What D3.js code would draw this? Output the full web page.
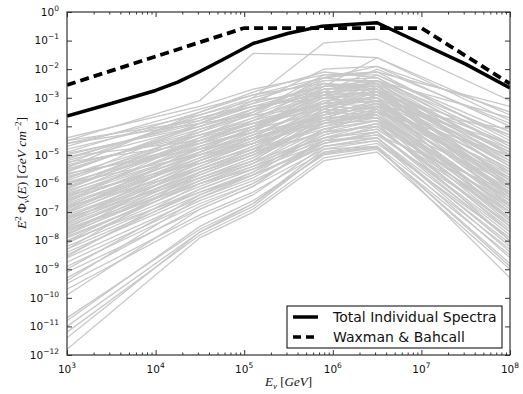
<!DOCTYPE html>
<html><head><meta charset="utf-8">
<script src="https://cdn.jsdelivr.net/npm/d3@7"></script>
<style>
html,body{margin:0;padding:0;background:#fff;}
svg{display:block;}
</style>
</head><body>
<svg id="chart" width="523" height="394"></svg>
<script>
// ---- DATA ----
// energy nodes (GeV) at which the individual spectra bend (log10 E = 3, 4.5, 5.1, 5.9, 6.5, 8)
const spectrumEnergies = [1e3, 3.16e4, 1.26e5, 7.94e5, 3.16e6, 1e8];
// individual source spectra: log10 of E^2 Phi at the nodes above
const spectraLog10 = [
  [-4.4, -3.3, -2.7, -2.2, -2.1, -3.3],
  [-4.5, -3.1, -1.45, -1.5, -1.6, -3.6],
  [-4.6, -3.6, -3.0, -1.08, -0.95, -3.1],
  [-4.7, -3.4, -2.9, -2.3, -1.9, -3.5],
  [-4.8, -3.7, -3.2, -2.0, -1.9, -4.0],
  [-4.9, -3.5, -2.8, -2.1, -2.3, -4.6],
  [-5.0, -3.9, -3.3, -2.6, -1.6, -3.8],
  [-5.1, -3.8, -3.0, -2.4, -2.4, -5.0],
  [-5.2, -4.0, -3.5, -2.2, -2.2, -4.2],
  [-5.3, -3.6, -3.1, -2.8, -2.0, -3.9],
  [-5.4, -4.2, -3.4, -2.5, -2.6, -5.4],
  [-5.5, -4.1, -3.6, -2.3, -2.1, -4.5],
  [-5.6, -3.9, -3.2, -2.6, -2.5, -5.2],
  [-5.7, -4.3, -3.7, -2.9, -2.2, -4.4],
  [-5.8, -4.4, -3.5, -2.4, -2.3, -4.8],
  [-5.9, -4.2, -3.6, -2.7, -2.6, -5.6],
  [-6.0, -4.5, -3.9, -3.0, -2.4, -4.7],
  [-6.05, -4.3, -3.8, -2.5, -2.8, -6.0],
  [-6.1, -4.6, -4.0, -3.2, -2.5, -5.0],
  [-6.2, -4.4, -3.7, -2.8, -2.9, -5.8],
  [-6.25, -4.8, -4.1, -2.9, -2.4, -4.3],
  [-6.3, -4.5, -3.9, -3.4, -2.7, -5.3],
  [-6.4, -4.7, -4.2, -2.6, -2.6, -6.2],
  [-6.45, -4.9, -4.0, -3.1, -3.0, -5.5],
  [-6.5, -4.6, -3.8, -2.9, -2.8, -6.4],
  [-6.6, -5.0, -4.3, -3.3, -2.6, -4.9],
  [-6.65, -4.8, -4.1, -3.0, -3.2, -6.6],
  [-6.7, -5.1, -4.5, -3.5, -2.9, -5.1],
  [-6.8, -4.9, -4.2, -2.8, -2.7, -5.9],
  [-6.85, -5.2, -4.4, -3.6, -3.1, -6.0],
  [-6.9, -5.0, -4.3, -3.2, -3.3, -6.8],
  [-7.0, -5.3, -4.6, -3.4, -2.8, -5.4],
  [-7.05, -5.1, -4.4, -3.1, -3.0, -6.3],
  [-7.1, -5.4, -4.7, -3.7, -3.2, -5.7],
  [-7.2, -5.2, -4.5, -3.3, -3.4, -7.0],
  [-7.25, -5.5, -4.8, -3.5, -2.9, -5.2],
  [-7.3, -5.3, -4.6, -3.8, -3.3, -6.5],
  [-7.35, -5.6, -4.9, -3.4, -3.5, -7.2],
  [-7.4, -5.4, -4.7, -3.6, -3.1, -5.9],
  [-7.5, -5.7, -5.0, -3.9, -3.4, -6.7],
  [-7.55, -5.5, -4.8, -3.5, -3.6, -7.4],
  [-7.6, -5.8, -5.1, -3.7, -3.2, -6.1],
  [-7.7, -5.6, -4.9, -4.0, -3.5, -6.9],
  [-7.75, -5.9, -5.2, -3.8, -3.7, -7.5],
  [-7.8, -5.7, -5.0, -3.6, -3.3, -6.4],
  [-7.9, -6.0, -5.3, -4.1, -3.6, -7.1],
  [-8.0, -5.8, -5.1, -3.9, -3.8, -7.7],
  [-8.05, -6.1, -5.4, -4.2, -3.4, -6.2],
  [-8.1, -5.9, -5.2, -3.7, -3.7, -7.3],
  [-8.2, -6.2, -5.5, -4.3, -3.9, -6.8],
  [-4.5, -3.8, -3.3, -2.9, -2.8, -4.3],
  [-4.95, -4.0, -3.4, -2.7, -2.7, -5.1],
  [-5.15, -3.7, -3.3, -3.0, -2.9, -4.9],
  [-5.35, -4.3, -3.9, -3.2, -2.4, -3.7],
  [-5.55, -4.0, -3.4, -2.8, -2.7, -5.9],
  [-5.75, -4.6, -4.0, -3.3, -3.0, -5.3],
  [-5.95, -4.7, -4.1, -3.5, -2.9, -4.8],
  [-6.15, -4.5, -3.8, -3.2, -3.1, -6.1],
  [-6.35, -4.9, -4.3, -3.6, -3.3, -5.6],
  [-6.55, -5.0, -4.4, -3.8, -3.4, -6.3],
  [-6.75, -5.2, -4.6, -3.9, -3.5, -5.8],
  [-6.95, -5.1, -4.4, -3.7, -3.6, -6.9],
  [-7.15, -5.5, -4.8, -4.0, -3.7, -6.6],
  [-7.45, -5.6, -5.0, -4.2, -3.8, -7.0],
  [-7.65, -5.9, -5.3, -4.4, -3.9, -6.5],
  [-7.85, -6.0, -5.4, -4.5, -4.0, -7.6],
  [-8.3, -6.3, -5.6, -4.4, -4.1, -7.2],
  [-8.4, -6.4, -5.7, -4.6, -4.2, -7.8],
  [-8.5, -6.2, -5.5, -4.3, -3.9, -8.0],
  [-8.6, -6.5, -5.8, -4.5, -4.3, -7.4],
  [-8.75, -6.6, -5.9, -4.7, -4.4, -8.2],
  [-8.9, -6.7, -6.0, -4.6, -4.2, -7.7],
  [-9.1, -6.9, -6.1, -4.8, -4.5, -8.1],
  [-9.3, -6.8, -6.0, -4.5, -4.4, -8.4],
  [-9.5, -7.1, -6.3, -4.9, -4.6, -7.9],
  [-9.7, -7.2, -6.4, -4.7, -4.5, -8.6],
  [-10.7, -7.6, -6.7, -4.8, -4.7, -8.3],
  [-10.8, -7.5, -6.6, -5.0, -4.75, -8.8],
  [-11.0, -7.7, -6.8, -4.9, -4.7, -9.3],
  [-11.2, -7.8, -6.9, -5.1, -4.8, -8.5],
  [-11.4, -7.7, -6.7, -4.95, -4.72, -8.9],
  [-11.8, -7.9, -7.0, -5.2, -4.9, -9.0],
  [-4.6, -3.9, -3.6, -3.3, -3.4, -5.8],
  [-5.05, -4.5, -4.0, -2.9, -3.1, -6.4],
  [-5.25, -4.6, -4.2, -3.7, -3.2, -4.6],
  [-5.45, -3.5, -2.9, -2.5, -2.7, -6.5],
  [-5.65, -4.8, -4.4, -3.9, -3.5, -5.0],
  [-5.85, -3.9, -3.1, -2.3, -2.5, -6.8],
  [-6.0, -5.0, -4.6, -3.6, -3.3, -4.1],
  [-6.2, -4.1, -3.5, -2.6, -2.4, -5.7],
  [-6.4, -5.3, -4.8, -4.1, -3.8, -6.0],
  [-6.6, -4.4, -3.9, -3.2, -3.0, -7.3],
  [-6.8, -5.5, -4.9, -4.2, -4.0, -6.7],
  [-7.0, -4.7, -4.1, -2.7, -2.5, -5.0],
  [-7.2, -5.8, -5.2, -4.4, -4.1, -7.0],
  [-7.4, -4.9, -4.2, -3.0, -2.8, -4.6],
  [-7.6, -6.0, -5.5, -4.6, -4.3, -6.3],
  [-7.8, -5.2, -4.6, -3.3, -3.1, -5.5],
  [-8.0, -6.3, -5.7, -4.7, -4.4, -7.9],
  [-8.3, -5.6, -4.9, -3.5, -3.2, -6.0],
  [-8.55, -6.0, -5.3, -3.9, -3.6, -6.6],
  [-9.0, -6.4, -5.6, -4.1, -3.8, -7.2],
  [-9.4, -6.5, -5.7, -4.2, -4.0, -7.5],
  [-9.9, -6.9, -6.1, -4.4, -4.2, -8.0]
];
// total of individual spectra
const totalEnergies = [1e3, 3.16e3, 1e4, 1.78e4, 3.16e4, 5.62e4, 1.26e5, 3.16e5, 7.59e5, 3.16e6, 1e7, 3.16e7, 1e8];
const totalValues   = [2.3e-4, 6.3e-4, 1.8e-3, 3.5e-3, 8.3e-3, 2.1e-2, 7.9e-2, 1.8e-1, 3.2e-1, 4.2e-1, 7.9e-2, 1.5e-2, 2.2e-3];
// Waxman & Bahcall
const wbEnergies = [1e3, 1e5, 1e7, 1e8];
const wbValues   = [2.8e-3, 2.75e-1, 2.75e-1, 3.1e-3];
// axis ticks
const xMajorTicks = [1e3, 1e4, 1e5, 1e6, 1e7, 1e8];
const xTickExponents = ["3", "4", "5", "6", "7", "8"];
const yMajorTicks = [1e-12,1e-11,1e-10,1e-9,1e-8,1e-7,1e-6,1e-5,1e-4,1e-3,1e-2,1e-1,1];
const yTickExponents = ["\u221212","\u221211","\u221210","\u22129","\u22128","\u22127","\u22126","\u22125","\u22124","\u22123","\u22122","\u22121","0"];
const legendLabels = ["Total Individual Spectra", "Waxman & Bahcall"];

// ---- LAYOUT ----
const L = 67, R = 510, T = 12, B = 355;
const svg = d3.select("#chart");
const x = d3.scaleLog().domain([1e3, 1e8]).range([L, R]);
const y = d3.scaleLog().domain([1e-12, 1]).range([B, T]);
const frameColor = "#333";

svg.append("defs").append("clipPath").attr("id", "pa")
  .append("rect").attr("x", L).attr("y", T).attr("width", R - L).attr("height", B - T);

const plot = svg.append("g").attr("clip-path", "url(#pa)");
const line = d3.line().x(d => x(d[0])).y(d => y(d[1]));

plot.selectAll("path.spec").data(spectraLog10).join("path")
  .attr("class", "spec")
  .attr("d", s => line(s.map((v, i) => [spectrumEnergies[i], Math.pow(10, v)])))
  .attr("fill", "none").attr("stroke", "#c8c8c8").attr("stroke-width", 1.3);

plot.append("path")
  .attr("d", line(totalEnergies.map((e, i) => [e, totalValues[i]])))
  .attr("fill", "none").attr("stroke", "#000").attr("stroke-width", 3.5)
  .attr("stroke-linejoin", "round");

plot.append("path")
  .attr("d", line(wbEnergies.map((e, i) => [e, wbValues[i]])))
  .attr("fill", "none").attr("stroke", "#000").attr("stroke-width", 3.8)
  .attr("stroke-dasharray", "9,5");

// ---- AXES ----
const xMinor = [];
for (let k = 3; k < 8; k++) for (let m = 2; m <= 9; m++) xMinor.push(m * Math.pow(10, k));

function styleAxis(g) {
  g.select(".domain").remove();
  g.selectAll(".tick line").attr("stroke", frameColor).attr("stroke-width", 1);
  g.selectAll(".tick text").remove();
}
svg.append("g").attr("transform", `translate(0,${B})`)
  .call(d3.axisBottom(x).tickValues(xMajorTicks).tickSize(-5)).call(styleAxis);
svg.append("g").attr("transform", `translate(0,${B})`)
  .call(d3.axisBottom(x).tickValues(xMinor).tickSize(-2.5)).call(styleAxis);
svg.append("g").attr("transform", `translate(0,${T})`)
  .call(d3.axisTop(x).tickValues(xMajorTicks).tickSize(-5)).call(styleAxis);
svg.append("g").attr("transform", `translate(0,${T})`)
  .call(d3.axisTop(x).tickValues(xMinor).tickSize(-2.5)).call(styleAxis);
svg.append("g").attr("transform", `translate(${L},0)`)
  .call(d3.axisLeft(y).tickValues(yMajorTicks).tickSize(-5)).call(styleAxis);
svg.append("g").attr("transform", `translate(${R},0)`)
  .call(d3.axisRight(y).tickValues(yMajorTicks).tickSize(-5)).call(styleAxis);

svg.append("rect").attr("x", L).attr("y", T).attr("width", R - L).attr("height", B - T)
  .attr("fill", "none").attr("stroke", frameColor).attr("stroke-width", 1.2);

const tickFont = "'DejaVu Sans', sans-serif";
// x tick labels
xMajorTicks.forEach((v, i) => {
  const t = svg.append("text").attr("x", x(v)).attr("y", 373)
    .attr("text-anchor", "middle").attr("font-family", tickFont).attr("font-size", 10.5).attr("fill", "#111");
  t.append("tspan").text("10");
  t.append("tspan").attr("dy", -5).attr("font-size", 7.5).text(xTickExponents[i]);
});
// y tick labels
yMajorTicks.forEach((v, i) => {
  const t = svg.append("text").attr("x", 59).attr("y", y(v) + 3.8)
    .attr("text-anchor", "end").attr("font-family", tickFont).attr("font-size", 10.5).attr("fill", "#111");
  t.append("tspan").text("10");
  t.append("tspan").attr("dy", -5).attr("font-size", 7.5).text(yTickExponents[i]);
});

// axis labels
const serif = "'Liberation Serif', 'DejaVu Serif', serif";
const xl = svg.append("text").attr("x", (L + R) / 2).attr("y", 386).attr("text-anchor", "middle")
  .attr("font-family", serif).attr("font-size", 13).attr("fill", "#111");
xl.append("tspan").attr("font-style", "italic").text("E");
xl.append("tspan").attr("font-style", "italic").attr("font-size", 9).attr("dy", 3).text("\u03bd");
xl.append("tspan").attr("dy", -3).text(" [");
xl.append("tspan").attr("font-style", "italic").text("GeV");
xl.append("tspan").text("]");

const yl = svg.append("text").attr("transform", "translate(26,173) rotate(-90)").attr("text-anchor", "middle")
  .attr("font-family", serif).attr("font-size", 13.5).attr("fill", "#111");
yl.append("tspan").attr("font-style", "italic").text("E");
yl.append("tspan").attr("font-size", 9).attr("dy", -5).text("2");
yl.append("tspan").attr("dy", 5).text(" \u03a6");
yl.append("tspan").attr("font-style", "italic").attr("font-size", 9).attr("dy", 3).text("\u03bd");
yl.append("tspan").attr("dy", -3).text("(");
yl.append("tspan").attr("font-style", "italic").text("E");
yl.append("tspan").text(") [");
yl.append("tspan").attr("font-style", "italic").text("GeV cm");
yl.append("tspan").attr("font-size", 9).attr("dy", -5).text("\u22122");
yl.append("tspan").attr("dy", 5).text("]");

// legend
const lg = svg.append("g");
lg.append("rect").attr("x", 287).attr("y", 306).attr("width", 215).attr("height", 42)
  .attr("fill", "#fff").attr("stroke", "#000").attr("stroke-width", 1);
const legendDash = [null, "8,5"];
legendLabels.forEach((lab, i) => {
  const yy = 317 + i * 20;
  lg.append("line").attr("x1", 293).attr("x2", 318).attr("y1", yy).attr("y2", yy)
    .attr("stroke", "#000").attr("stroke-width", 3.5)
    .attr("stroke-dasharray", legendDash[i]);
  lg.append("text").attr("x", 333).attr("y", yy + 5).attr("font-family", tickFont)
    .attr("font-size", 14).attr("fill", "#111").text(lab);
});
</script>
</body></html>
